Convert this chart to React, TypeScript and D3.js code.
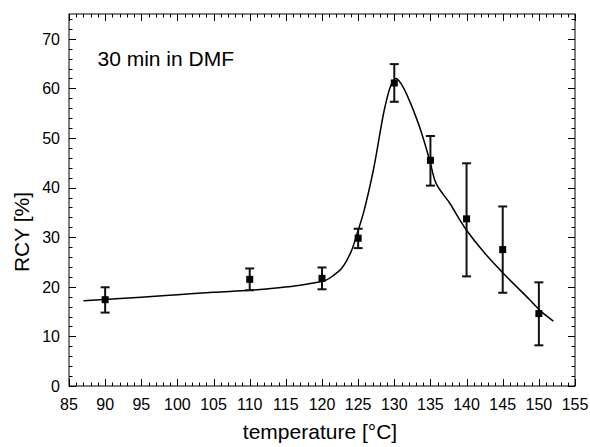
import { useEffect, useRef } from 'react';
import * as d3 from 'd3';

// measured points
const temps = [90, 110, 120, 125, 130, 135, 140, 145, 150];
const rcy = [17.4, 21.5, 21.7, 29.8, 61.1, 45.5, 33.7, 27.5, 14.6];
const errLow = [14.8, 19.3, 19.5, 27.8, 57.3, 40.4, 22.1, 18.8, 8.2];
const errHigh = [19.9, 23.7, 23.9, 31.7, 64.9, 50.4, 44.9, 36.2, 20.9];

// fitted curve
const fitT = [87, 95, 100, 105, 110, 114, 117, 119, 120.5, 121.5, 122.7, 124, 125, 125.7, 127.1, 128.7, 129.6, 130.25, 131, 131.9, 133.5, 134.9, 135.8, 137.7, 139.1, 140, 142.5, 145.1, 148.8, 150.1, 152];
const fitY = [17.2, 17.9, 18.4, 18.9, 19.3, 19.8, 20.3, 20.8, 21.3, 22.2, 23.7, 27, 31.4, 34.7, 43.5, 56.2, 60.8, 62.0, 60.8, 58.2, 52.2, 45.5, 40.8, 36.8, 33.4, 31.4, 26.8, 22.7, 17.3, 15.3, 13.1];

const xTicks = d3.range(85, 156, 5);
const yTicks = d3.range(0, 71, 10);

const App = () => {
  const svgRef = useRef<SVGSVGElement>(null);

  useEffect(() => {
    const W = 590;
    const H = 447;
    const left = 69, right = 575, top = 14, bottom = 386;
    const font = 'Liberation Sans, Arial, Helvetica, sans-serif';

    const svg = d3.select(svgRef.current);
    svg.selectAll('*').remove();
    svg.attr('width', W).attr('height', H);

    svg.append('rect').attr('width', W).attr('height', H).attr('fill', 'white');

    const x = d3.scaleLinear().domain([85, 155]).range([left, right]);
    const y = d3.scaleLinear().domain([0, 75]).range([bottom, top]);

    // frame
    svg.append('rect')
      .attr('x', left).attr('y', top)
      .attr('width', right - left).attr('height', bottom - top)
      .attr('fill', 'none').attr('stroke', '#000').attr('stroke-width', 1);

    // ticks, all pointing inward, mirrored on top/right
    const ticks = svg.append('g').attr('stroke', '#000').attr('stroke-width', 1);
    d3.range(85, 156, 1).forEach(v => {
      const len = v % 5 === 0 ? 7 : 3.5;
      const px = Math.round(x(v)) + 0.5;
      ticks.append('line').attr('x1', px).attr('x2', px).attr('y1', bottom).attr('y2', bottom - len);
      ticks.append('line').attr('x1', px).attr('x2', px).attr('y1', top).attr('y2', top + len);
    });
    d3.range(0, 76, 2).forEach(v => {
      const len = v % 10 === 0 ? 7 : 3.5;
      const py = Math.round(y(v)) + 0.5;
      ticks.append('line').attr('y1', py).attr('y2', py).attr('x1', left).attr('x2', left + len);
      ticks.append('line').attr('y1', py).attr('y2', py).attr('x1', right).attr('x2', right - len);
    });

    // tick labels
    svg.append('g').selectAll('text')
      .data(xTicks)
      .enter().append('text')
      .attr('x', d => x(d))
      .attr('y', 409.5)
      .attr('text-anchor', 'middle')
      .style('font-family', font)
      .style('font-size', '16px')
      .text(d => d);

    svg.append('g').selectAll('text')
      .data(yTicks)
      .enter().append('text')
      .attr('x', 60)
      .attr('y', d => y(d) + 5.8)
      .attr('text-anchor', 'end')
      .style('font-family', font)
      .style('font-size', '16px')
      .text(d => d);

    // axis titles
    svg.append('text')
      .attr('x', 320)
      .attr('y', 439)
      .attr('text-anchor', 'middle')
      .style('font-family', font)
      .style('font-size', '21px')
      .text('temperature [°C]');

    svg.append('text')
      .attr('transform', 'translate(28.5,232) rotate(-90)')
      .attr('text-anchor', 'middle')
      .style('font-family', font)
      .style('font-size', '21px')
      .text('RCY [%]');

    // annotation
    svg.append('text')
      .attr('x', 97.5)
      .attr('y', 65.5)
      .style('font-family', font)
      .style('font-size', '21px')
      .text('30 min in DMF');

    // fit line
    const line = d3.line<number>()
      .x(d => x(fitT[d]))
      .y(d => y(fitY[d]))
      .curve(d3.curveCatmullRom.alpha(0.5));

    svg.append('path')
      .datum(d3.range(fitT.length))
      .attr('fill', 'none')
      .attr('stroke', '#000')
      .attr('stroke-width', 1.5)
      .attr('d', line);

    // error bars
    const eb = svg.append('g').attr('stroke', '#111').attr('stroke-width', 2);
    temps.forEach((t, i) => {
      const cx = x(t);
      eb.append('line').attr('x1', cx).attr('x2', cx).attr('y1', y(errLow[i])).attr('y2', y(errHigh[i]));
      eb.append('line').attr('x1', cx - 4.5).attr('x2', cx + 4.5).attr('y1', y(errLow[i])).attr('y2', y(errLow[i]));
      eb.append('line').attr('x1', cx - 4.5).attr('x2', cx + 4.5).attr('y1', y(errHigh[i])).attr('y2', y(errHigh[i]));
    });

    // markers
    svg.append('g').selectAll('rect')
      .data(temps)
      .enter().append('rect')
      .attr('x', d => x(d) - 3.5)
      .attr('y', (d, i) => y(rcy[i]) - 3.5)
      .attr('width', 7)
      .attr('height', 7)
      .attr('fill', '#000');
  }, []);

  return (
    <svg ref={svgRef} style={{ position: 'absolute', left: 0, top: 0 }}></svg>
  );
};

export default App;
